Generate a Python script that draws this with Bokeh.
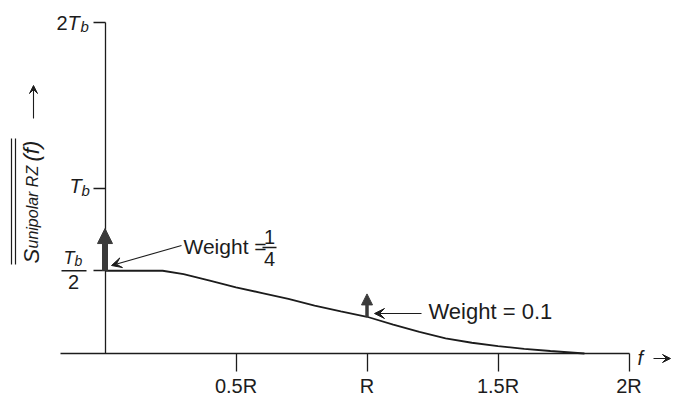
import math
from bokeh.plotting import figure
from bokeh.models import Range1d, LinearAxis, FixedTicker, Arrow, NormalHead, VeeHead
from bokeh.core.properties import value
from bokeh.embed import file_html
from bokeh.resources import INLINE

# ---------------- data (f in units of R, PSD in units of Tb) ----------------
freq = [0.0, 0.22, 0.3, 0.4, 0.5, 0.6, 0.7, 0.8, 0.9, 1.0, 1.1, 1.2, 1.3, 1.4, 1.5, 1.6, 1.7, 1.83]
psd = [0.5, 0.5, 0.48, 0.44, 0.40, 0.365, 0.33, 0.29, 0.255, 0.222, 0.175, 0.13, 0.092, 0.065, 0.045, 0.028, 0.015, 0.0]
impulse_f = [0.0, 1.0]
impulse_base = [0.5, 0.222]
impulse_top = [0.755, 0.36]
x_ticks = [0.5, 1.0, 1.5, 2.0]
x_tick_labels = ["0.5R", "R", "1.5R", "2R"]
y_ticks = [0.5, 1.0, 2.0]
y_tick_coef = ["1/2", "", "2"]

FONT = value("Liberation Sans")
INK = "#1c1c1c"
IMP = "#3a3a3a"

# pixel helpers (window pixel -> data), used only for placing annotations
X0, SX, Y0, SY = 104.5, 262.0, 353.0, 165.5
W, H = 673, 401
TOFF = 7  # rendering offset correction for text baselines
def dx(X):
    return (X - X0) / SX
def dy(Y):
    return (Y0 - Y) / SY
def px_y(v):
    return Y0 - SY * v

p = figure(width=W, height=H,
           x_range=Range1d(dx(0), dx(W)), y_range=Range1d(dy(H), dy(0)),
           output_backend="svg", toolbar_location=None,
           x_axis_location=None, y_axis_location=None,
           min_border=0, outline_line_color=None)
p.xgrid.visible = False
p.ygrid.visible = False
p.background_fill_color = "white"

# ---------------- axes ----------------
xaxis = LinearAxis(fixed_location=0, bounds=(dx(60), x_ticks[-1]),
                   ticker=FixedTicker(ticks=x_ticks),
                   major_label_overrides={t: l for t, l in zip(x_ticks, x_tick_labels)},
                   major_tick_out=18, major_tick_in=0, minor_tick_out=0, minor_tick_in=0,
                   axis_line_color=INK, axis_line_width=1.3,
                   major_tick_line_color=INK, major_tick_line_width=1.3,
                   major_label_text_font="Liberation Sans", major_label_text_font_size="20px",
                   major_label_text_color=INK, major_label_standoff=3)
p.add_layout(xaxis, "below")

yaxis = LinearAxis(fixed_location=0, bounds=(0, y_ticks[-1]),
                   ticker=FixedTicker(ticks=y_ticks),
                   major_label_overrides={t: "" for t in y_ticks},
                   major_tick_out=12, major_tick_in=0, minor_tick_out=0, minor_tick_in=0,
                   axis_line_color=INK, axis_line_width=1.3,
                   major_tick_line_color=INK, major_tick_line_width=1.3)
p.add_layout(yaxis, "left")

# ---------------- curve ----------------
p.line(freq, psd, line_width=1.8, line_color=INK)

# ---------------- impulses ----------------
widths = [6, 3.5]
heads = [15, 11]
for i in range(len(impulse_f)):
    p.add_layout(Arrow(end=NormalHead(size=heads[i], fill_color=IMP, line_color=IMP, line_width=1),
                       x_start=impulse_f[i], y_start=impulse_base[i],
                       x_end=impulse_f[i], y_end=impulse_top[i],
                       line_width=widths[i], line_color=IMP))

# ---------------- text helper ----------------
def txt(X, Y, s, size, style="normal", align="left", angle=0.0):
    if angle:
        X = X - TOFF
    else:
        Y = Y - TOFF
    p.text(x=[dx(X)], y=[dy(Y)], text=[s], text_font=FONT, text_font_size=f"{size}px",
           text_font_style=style, text_align=align, text_baseline="alphabetic",
           angle=angle, text_color=INK)

# y tick labels
ty = [px_y(v) for v in y_ticks]
# 2T_b
txt(67, ty[2] + 7, y_tick_coef[2], 20, align="right")
txt(67, ty[2] + 7, "T", 20, style="italic")
txt(80, ty[2] + 11, "b", 15, style="italic")
# T_b
txt(69, ty[1] + 5, "T", 20, style="italic")
txt(81, ty[1] + 9, "b", 15, style="italic")
# T_b / 2
txt(63, ty[0] - 6, "T", 18, style="italic")
txt(74, ty[0] - 3, "b", 14, style="italic")
p.segment(x0=[dx(61)], y0=[y_ticks[0]], x1=[dx(86)], y1=[y_ticks[0]], line_color=INK, line_width=1.3)
txt(73, ty[0] + 18, "2", 20, align="center")

# y title (rotated) with double overline
ang = math.pi / 2
txt(38, 263, "S", 22, style="italic", angle=ang)
txt(39, 248, "unipolar RZ", 16, style="italic", angle=ang)
txt(38, 161, "(f)", 22, style="italic", angle=ang)
p.segment(x0=[dx(11), dx(15)], y0=[dy(138), dy(138)], x1=[dx(11), dx(15)], y1=[dy(264), dy(264)],
          line_color=INK, line_width=1.2)
p.add_layout(Arrow(end=VeeHead(size=8, fill_color=INK, line_color=INK, line_width=1),
                   x_start=dx(33), y_start=dy(118), x_end=dx(33), y_end=dy(85),
                   line_width=1.1, line_color=INK))

# x title
txt(637, 364, "f", 20, style="italic")
p.add_layout(Arrow(end=VeeHead(size=8, fill_color=INK, line_color=INK, line_width=1),
                   x_start=dx(653), y_start=dy(358), x_end=dx(670), y_end=dy(358),
                   line_width=1.1, line_color=INK))

# weight annotations
txt(183, 253, "Weight =", 21)
txt(269, 243, "1", 20, align="center")
p.segment(x0=[dx(262)], y0=[dy(247)], x1=[dx(276)], y1=[dy(247)], line_color=INK, line_width=1.5)
txt(269, 265, "4", 20, align="center")
p.add_layout(Arrow(end=VeeHead(size=10, fill_color=INK, line_color=INK, line_width=1),
                   x_start=dx(181), y_start=dy(245), x_end=dx(111), y_end=dy(265),
                   line_width=1.1, line_color=INK))

txt(428, 318, "Weight = 0.1", 22)
p.add_layout(Arrow(end=VeeHead(size=10, fill_color=INK, line_color=INK, line_width=1),
                   x_start=dx(421), y_start=dy(313), x_end=dx(374), y_end=dy(313),
                   line_width=1.1, line_color=INK))

open("out.html", "w").write(file_html(p, INLINE))
